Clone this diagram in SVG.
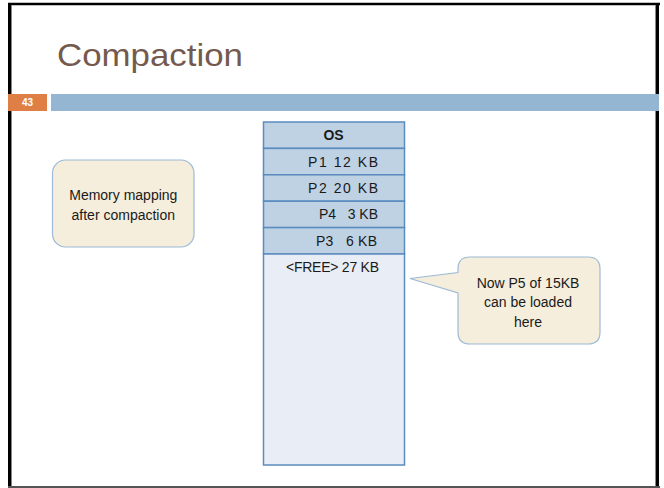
<svg xmlns="http://www.w3.org/2000/svg" width="664" height="488" viewBox="0 0 664 488">
  <style>
    .lbl { font-family: "Liberation Sans", Arial, sans-serif; font-size: 14px; fill: #1a1a1a; }
    .mem { fill: #bed2e4; stroke: #5b8cbf; stroke-width: 1.5; }
    .free { fill: #e9eef6; stroke: #5b8cbf; stroke-width: 1.5; }
    .callout { fill: #f5eedd; stroke: #9dbad6; stroke-width: 1.2; }
  </style>

  <!-- page background and frame -->
  <rect x="0" y="0" width="664" height="488" fill="#ffffff"/>
  <line x1="8" y1="4" x2="660" y2="4" stroke="#000" stroke-width="2.5"/>
  <line x1="9.5" y1="3" x2="9.5" y2="488" stroke="#000" stroke-width="3"/>
  <line x1="11.5" y1="5" x2="11.5" y2="486" stroke="#888" stroke-width="1"/>
  <line x1="657.5" y1="3" x2="657.5" y2="488" stroke="#000" stroke-width="3"/>
  <line x1="655.5" y1="5" x2="655.5" y2="486" stroke="#888" stroke-width="1"/>
  <line x1="8" y1="487" x2="660" y2="487" stroke="#555" stroke-width="2"/>

  <!-- title -->
  <text x="57" y="66" font-family="'Liberation Sans', Arial, sans-serif" font-size="32" fill="#745a4e" textLength="186" lengthAdjust="spacingAndGlyphs">Compaction</text>

  <!-- slide number tab and rule bar -->
  <rect x="8" y="94" width="39" height="17" fill="#e07f45"/>
  <text x="27.5" y="106" font-family="'Liberation Sans', Arial, sans-serif" font-size="10" font-weight="bold" fill="#ffffff" text-anchor="middle">43</text>
  <rect x="51" y="94" width="608" height="17" fill="#94b6d3"/>

  <!-- memory map -->
  <g id="mem-os">
    <rect class="mem" x="263.5" y="122" width="141" height="26.4"/>
    <text class="lbl" x="333.5" y="140" font-weight="bold" text-anchor="middle">OS</text>
  </g>
  <g id="mem-p1">
    <rect class="mem" x="263.5" y="148.4" width="141" height="26.4"/>
    <text class="lbl" x="308" y="166.5" textLength="70" lengthAdjust="spacing">P1 12 KB</text>
  </g>
  <g id="mem-p2">
    <rect class="mem" x="263.5" y="174.8" width="141" height="26.4"/>
    <text class="lbl" x="308" y="192.9" textLength="70" lengthAdjust="spacing">P2 20 KB</text>
  </g>
  <g id="mem-p4">
    <rect class="mem" x="263.5" y="201.2" width="141" height="26.4"/>
    <text class="lbl" x="319" y="219.3" textLength="59" lengthAdjust="spacing" xml:space="preserve">P4   3 KB</text>
  </g>
  <g id="mem-p3">
    <rect class="mem" x="263.5" y="227.6" width="141" height="26.4"/>
    <text class="lbl" x="316" y="245.7" textLength="61" lengthAdjust="spacing" xml:space="preserve">P3   6 KB</text>
  </g>
  <g id="mem-free">
    <rect class="free" x="263.5" y="254" width="141" height="211"/>
    <text class="lbl" x="286" y="272.1" textLength="93" lengthAdjust="spacing">&lt;FREE&gt; 27 KB</text>
  </g>

  <!-- caption box -->
  <g id="note-mapping">
    <rect class="callout" x="52.5" y="160" width="141.5" height="87" rx="13"/>
    <text class="lbl" x="123.3" y="200" text-anchor="middle">Memory mapping</text>
    <text class="lbl" x="123.3" y="220" text-anchor="middle">after compaction</text>
  </g>

  <!-- callout pointing at the free block -->
  <g id="note-p5">
    <path class="callout" d="M470 257 H588 Q600 257 600 269 V332 Q600 344 588 344 H470 Q458 344 458 332 V293 L410 278.5 L458 272.5 V269 Q458 257 470 257 Z"/>
    <text class="lbl" x="528" y="287.5" text-anchor="middle">Now P5 of 15KB</text>
    <text class="lbl" x="528" y="307" text-anchor="middle">can be loaded</text>
    <text class="lbl" x="528" y="326.5" text-anchor="middle">here</text>
  </g>
</svg>
